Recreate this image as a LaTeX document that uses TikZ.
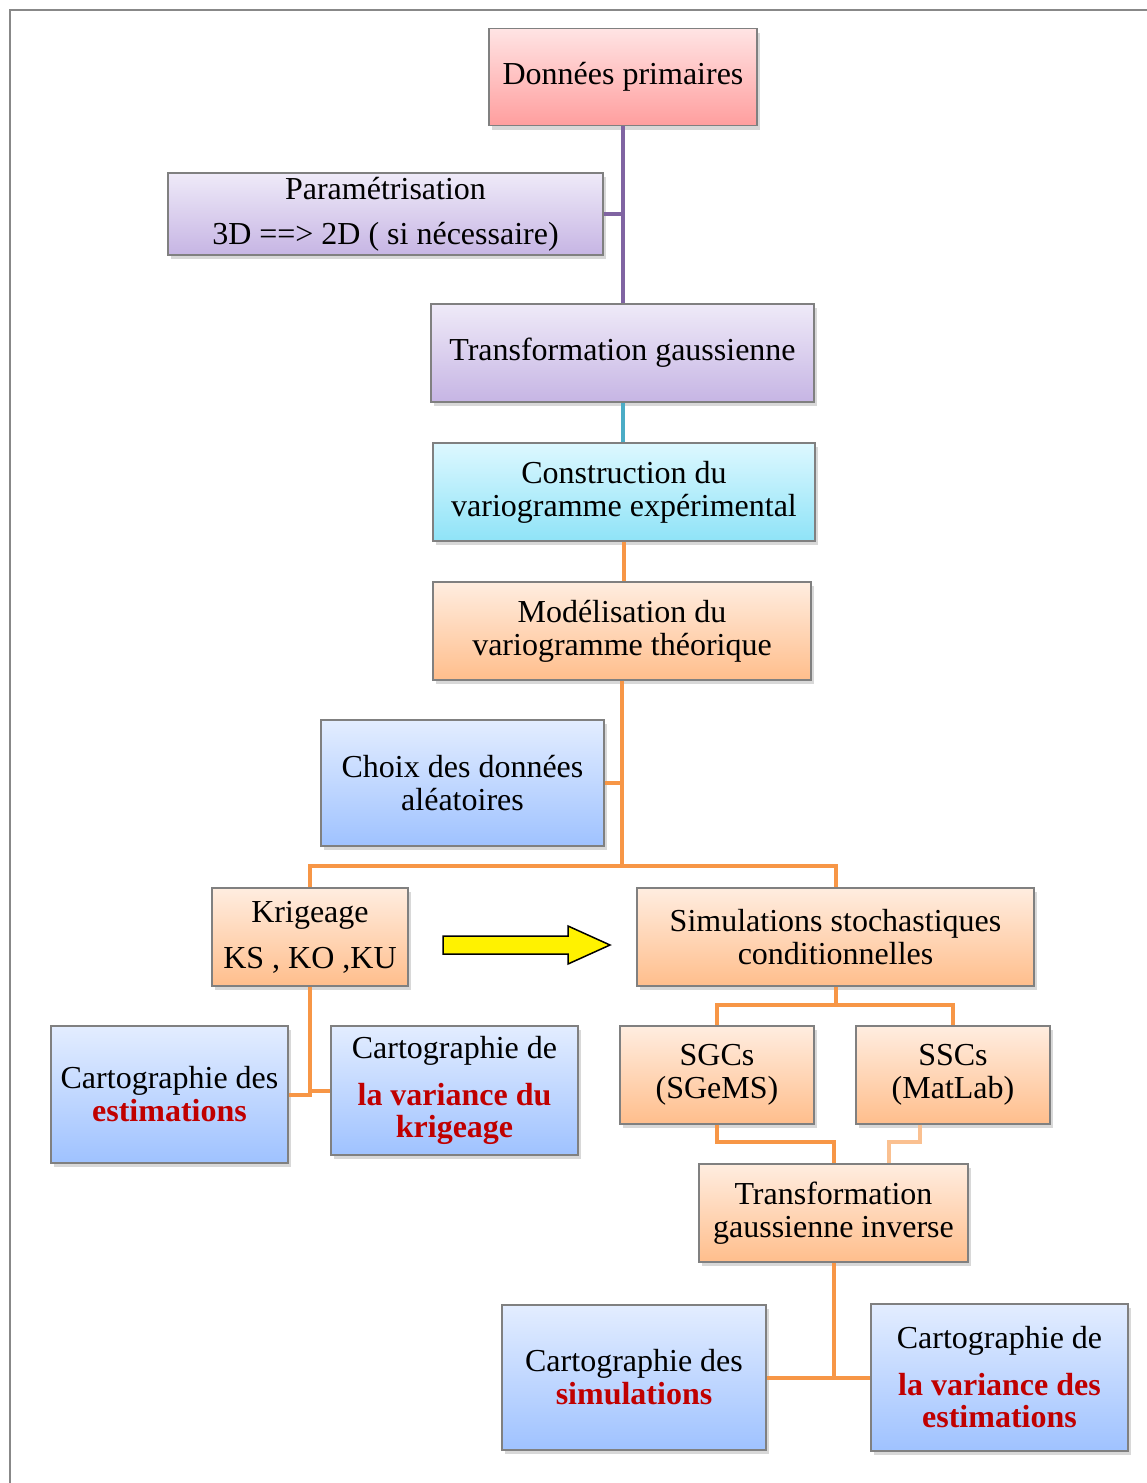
\documentclass[tikz,border=0pt]{standalone}
\usepackage{fontspec}
\setmainfont{Liberation Serif}
\usetikzlibrary{shadows,calc}
\definecolor{pinkT}{HTML}{FFE4E4}
\definecolor{pinkB}{HTML}{FF9E9E}
\definecolor{purT}{HTML}{EFEAF8}
\definecolor{purB}{HTML}{C6B5E4}
\definecolor{cyaT}{HTML}{DDF8FF}
\definecolor{cyaB}{HTML}{8FE3F7}
\definecolor{oraT}{HTML}{FFEDE0}
\definecolor{oraB}{HTML}{FFBE8C}
\definecolor{bluT}{HTML}{E3EDFF}
\definecolor{bluB}{HTML}{9FC2FF}
\definecolor{lnPur}{HTML}{8064A2}
\definecolor{lnTeal}{HTML}{4BACC6}
\definecolor{lnOra}{HTML}{F79646}
\definecolor{lnOraL}{HTML}{FAC090}
\definecolor{redtxt}{HTML}{C00000}
\definecolor{framecol}{HTML}{888888}
\newcommand{\redbf}[1]{{\color{redtxt}\bfseries #1}}
\begin{document}
\begin{tikzpicture}[x=1pt,y=-1pt,
  box/.style={draw=black!50, line width=1.2pt, inner sep=0pt, align=center, anchor=center,
     font=\fontsize{32}{33}\selectfont,
     drop shadow={shadow xshift=3pt, shadow yshift=-4pt, opacity=0.3}},
  pinkbox/.style={box, top color=pinkT, bottom color=pinkB},
  purbox/.style={box, top color=purT, bottom color=purB},
  cyabox/.style={box, top color=cyaT, bottom color=cyaB},
  orabox/.style={box, top color=oraT, bottom color=oraB},
  blubox/.style={box, top color=bluT, bottom color=bluB},
  conn/.style={line width=4pt},
  purline/.style={conn, draw=lnPur},
  tealline/.style={conn, draw=lnTeal},
  oraline/.style={conn, draw=lnOra},
  oralightline/.style={conn, draw=lnOraL},
]
\useasboundingbox (0,0) rectangle (1147,1483);
\fill[white] (0,0) rectangle (1147,1483);
\draw[framecol, line width=1.5pt] (10,1483) -- (10,10) -- (1147,10);

% nodes
\node[pinkbox, minimum width=268pt, minimum height=97pt] (dp) at (623,77) {Données primaires};
\node[purbox, minimum width=435pt, minimum height=82pt] (par) at (385.5,214)
  {Paramétrisation\\[12pt] 3D ==> 2D ( si nécessaire)};
\node[purbox, minimum width=383pt, minimum height=98pt] (tg) at (622.5,353) {Transformation gaussienne};
\node[cyabox, minimum width=382pt, minimum height=98pt] (cv) at (624,492) {Construction du\\ variogramme expérimental};
\node[orabox, minimum width=378pt, minimum height=98pt] (mv) at (622,631) {Modélisation du\\ variogramme théorique};
\node[blubox, minimum width=283pt, minimum height=126pt] (ch) at (462.5,783) {Choix des données\\ aléatoires};
\node[orabox, minimum width=196pt, minimum height=98pt] (kr) at (310,937) {Krigeage\\[13pt] KS , KO ,KU};
\node[orabox, minimum width=397pt, minimum height=98pt] (ss) at (835.5,937) {Simulations stochastiques\\ conditionnelles};
\node[blubox, minimum width=237pt, minimum height=137pt] (ce) at (169.5,1094.5) {Cartographie des\\ \redbf{estimations}};
\node[blubox, minimum width=247pt, minimum height=129pt] (ck) at (454.5,1090.5) {Cartographie de\\[14pt] \redbf{la variance du}\\[-1pt] \redbf{krigeage}};
\node[orabox, minimum width=194pt, minimum height=98pt] (sg) at (717,1075) {SGCs\\ (SGeMS)};
\node[orabox, minimum width=194pt, minimum height=98pt] (sc) at (953,1075) {SSCs\\ (MatLab)};
\node[orabox, minimum width=269pt, minimum height=98pt] (ti) at (833.5,1213) {Transformation\\ gaussienne inverse};
\node[blubox, minimum width=264pt, minimum height=145pt] (cs) at (634,1377.5) {Cartographie des\\ \redbf{simulations}};
\node[blubox, minimum width=257pt, minimum height=147pt] (cve) at (999.5,1377.5) {Cartographie de\\[14pt] \redbf{la variance des}\\[-1pt] \redbf{estimations}};

% coordinates
\coordinate (j1) at (622,866);
\coordinate (j3) at (835,1005);
\coordinate (sc1) at ([xshift=-33pt]sc.south);
\coordinate (ti1) at ([xshift=55.5pt]ti.north);

% connectors
\draw[purline] (dp.south) -- (dp.south |- tg.north);
\draw[purline] (par.east) -- (par.east -| dp.south);
\draw[tealline] (tg.south) -- (tg.south |- cv.north);
\draw[oraline] (cv.south) -- (cv.south |- mv.north);
\draw[oraline] (mv.south) -- (mv.south |- j1);
\draw[oraline] (ch.east) -- (ch.east -| mv.south);
\draw[oraline] (kr.north) -- (kr.north |- j1) -- (ss.north |- j1) -- (ss.north);
\draw[oraline] (kr.south) -- ([yshift=-2pt]kr.south |- ce.east);
\draw[oraline] (ce.east) -- (ce.east -| kr.south);
\draw[oraline] (ck.west) -- (ck.west -| kr.south);
\draw[oraline] (ss.south) -- (ss.south |- j3);
\draw[oraline] (sg.north) -- (sg.north |- j3) -- (sc.north |- j3) -- (sc.north);
\draw[oraline] (sg.south) -- ++(0,17) -| (ti.north);
\draw[oralightline] (sc1) -- ++(0,17) -| (ti1);
\draw[oraline] (ti.south) -- (ti.south |- cs.east);
\draw[oraline] (cs.east) -- (cve.west);

% yellow block arrow
\draw[fill=yellow, draw=black, line width=1.5pt, line join=miter]
  (443,936) -- (568,936) -- (568,926) -- (610,945) -- (568,964) -- (568,954) -- (443,954) -- cycle;
\end{tikzpicture}
\end{document}
